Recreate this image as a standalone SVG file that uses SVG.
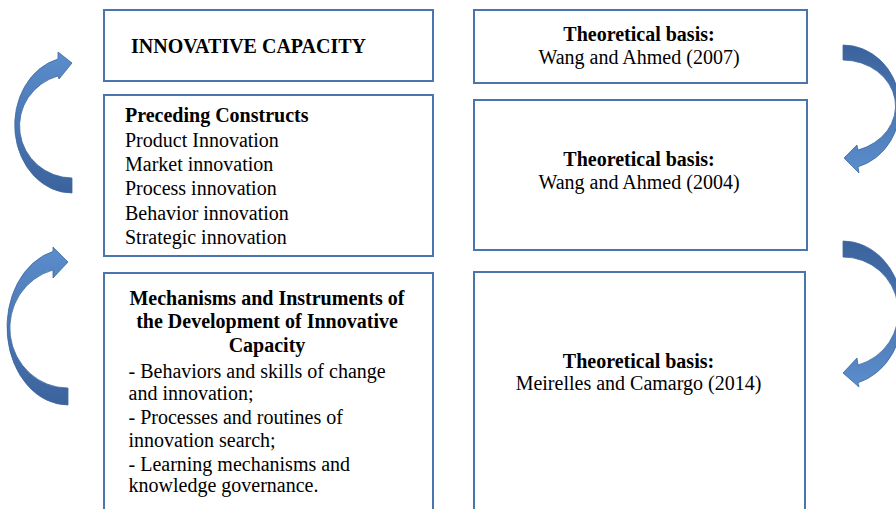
<svg xmlns="http://www.w3.org/2000/svg" width="896" height="509" viewBox="0 0 896 509">
<defs>
<linearGradient id="gUp" x1="0" y1="0" x2="0" y2="1">
<stop offset="0" stop-color="#5b8dcc"/>
<stop offset="1" stop-color="#3b629c"/>
</linearGradient>
<linearGradient id="gDown" x1="0" y1="0" x2="0" y2="1">
<stop offset="0" stop-color="#3b629c"/>
<stop offset="1" stop-color="#5b8dcc"/>
</linearGradient>
<style>
.box{fill:#ffffff;stroke:#4a76ad;stroke-width:2}
.t{font-family:"Liberation Serif","Times New Roman",serif;font-size:20px;fill:#000}
.b{font-weight:bold}
.c{text-anchor:middle}
.arr{stroke:#3f679f;stroke-width:0.8}
</style>
</defs>
<rect width="896" height="509" fill="#ffffff"/>

<g id="connectors">
<path class="arr" fill="url(#gUp)" d="M 72 193 A 57 68 0 0 1 58 59 L 58 52 L 72 63 L 59 79 L 58 76 A 53 52 0 0 0 72 178 Z"/>
<path class="arr" fill="url(#gUp)" d="M 68 405 A 61 78 0 0 1 53 251.4 L 53 247 L 68 262 L 53 278 L 53 270 A 58 60 0 0 0 68 388 Z"/>
<path class="arr" fill="url(#gDown)" d="M 843 45 A 57 62 0 0 1 858 166.8 L 859 173 L 844 158 L 857 145 L 858 150 A 53 46 0 0 0 843 60 Z"/>
<path class="arr" fill="url(#gDown)" d="M 843 241 A 60 72 0 0 1 858 382.7 L 859 387 L 843 373 L 857 358 L 858 365 A 55 55 0 0 0 843 257 Z"/>
</g>

<g id="innovative-capacity">
<rect class="box" x="104" y="10" width="329" height="71"/>
<text class="t b" x="131" y="53">INNOVATIVE CAPACITY</text>
</g>

<g id="preceding-constructs">
<rect class="box" x="104" y="95" width="329" height="161"/>
<text class="t b" x="125" y="122">Preceding Constructs</text>
<text class="t" x="125" y="147">Product Innovation</text>
<text class="t" x="125" y="171">Market innovation</text>
<text class="t" x="125" y="195">Process innovation</text>
<text class="t" x="125" y="220">Behavior innovation</text>
<text class="t" x="125" y="244">Strategic innovation</text>
</g>

<g id="mechanisms">
<rect class="box" x="104" y="273" width="329" height="250"/>
<text class="t b c" x="267" y="305">Mechanisms and Instruments of</text>
<text class="t b c" x="267" y="328">the Development of Innovative</text>
<text class="t b c" x="267" y="351.5">Capacity</text>
<text class="t" x="128.5" y="378">- Behaviors and skills of change</text>
<text class="t" x="128.5" y="400">and innovation;</text>
<text class="t" x="128.5" y="424">- Processes and routines of</text>
<text class="t" x="128.5" y="446.5">innovation search;</text>
<text class="t" x="128.5" y="470.5">- Learning mechanisms and</text>
<text class="t" x="128.5" y="492">knowledge governance.</text>
</g>

<g id="basis-2007">
<rect class="box" x="474" y="10" width="333" height="73"/>
<text class="t b c" x="639" y="41">Theoretical basis:</text>
<text class="t c" x="639" y="64">Wang and Ahmed (2007)</text>
</g>

<g id="basis-2004">
<rect class="box" x="474" y="100" width="333" height="150"/>
<text class="t b c" x="639" y="165.5">Theoretical basis:</text>
<text class="t c" x="639" y="188.5">Wang and Ahmed (2004)</text>
</g>

<g id="basis-2014">
<rect class="box" x="474" y="272" width="331" height="250"/>
<text class="t b c" x="638.5" y="367.5">Theoretical basis:</text>
<text class="t c" x="638.5" y="390">Meirelles and Camargo (2014)</text>
</g>
</svg>
